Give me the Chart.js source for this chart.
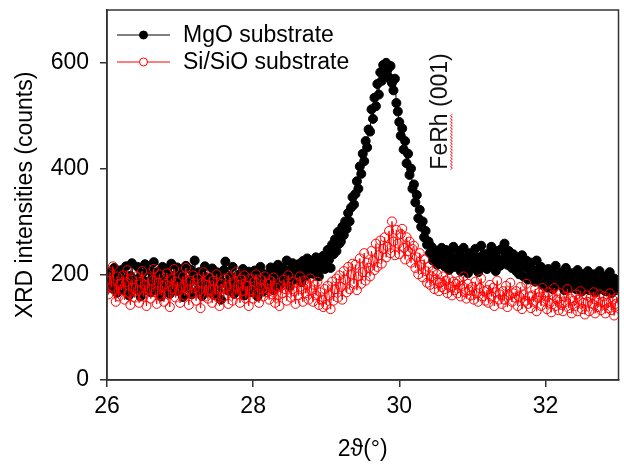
<!DOCTYPE html>
<html><head><meta charset="utf-8">
<script src="https://cdn.jsdelivr.net/npm/chart.js@4/dist/chart.umd.min.js"></script>
<style>html,body{margin:0;padding:0;background:#fff}</style>
</head><body>
<canvas id="c" width="624" height="466"></canvas>
<script>
// 2θ sampling grid of the scan (degrees)
const thetaStart = 26, thetaStep = 0.02;
const xTickValues = [26, 28, 30, 32];
const yTickValues = [0, 200, 400, 600];
const seriesNames = ['MgO substrate', 'Si/SiO substrate'];
const xAxisTitle = '2\u03D1(\u00B0)';
const yAxisTitle = 'XRD intensities (counts)';
const peakLabel = 'FeRh (001)';
const peakLabelAt = [30.57, 508];

const mgoCounts = [
196,182,205,174,190,212,186,165,199,178,
208,191,170,215,184,160,197,221,183,172,
190,214,176,158,201,188,219,170,185,207,
166,193,223,180,171,205,192,158,214,187,
175,210,196,163,220,184,170,199,213,168,
185,202,157,192,216,174,181,209,162,195,
226,189,170,204,178,159,198,215,186,167,
193,176,211,161,188,204,170,196,152,183,
208,224,185,169,197,180,214,163,191,175,
199,171,186,210,160,192,177,205,184,166,
189,207,172,158,196,214,181,168,200,185,
176,198,213,184,170,205,192,218,179,196,
212,186,203,226,194,178,209,221,190,202,
198,219,207,185,225,212,196,230,204,214,
222,201,216,232,208,196,225,214,235,210,
218,246,228,212,256,238,266,244,280,258,
262,290,274,300,286,316,300,326,346,332,
352,376,362,404,390,428,414,452,440,474,
470,512,494,534,518,560,540,582,566,596,
580,600,588,572,594,562,548,570,524,508,
488,462,476,436,452,410,428,388,400,362,
370,336,350,306,322,290,300,270,282,256,
262,240,252,226,246,232,218,240,228,250,
234,215,246,222,208,238,226,252,214,230,
220,244,206,232,250,218,228,202,240,224,
236,212,248,226,204,232,254,216,238,222,
210,240,226,252,218,234,206,244,228,216,
248,226,258,236,218,244,230,212,238,224,
206,228,200,218,236,196,214,226,190,210,
222,198,208,186,226,202,192,214,180,204,
196,176,210,188,204,172,200,216,184,194,
180,204,190,170,212,186,196,174,202,188,
192,172,208,180,194,168,200,186,176,206,
170,194,184,200,166,188,178,206,172,186,
196,168,186,176,204,164,182,192,170,188,
176];

const sioCounts = [
188,162,204,176,215,170,148,196,158,182,
170,198,152,185,208,164,142,190,174,156,
196,168,146,186,206,158,180,140,194,172,
154,188,210,166,144,184,200,160,178,148,
182,202,162,138,192,172,210,156,186,168,
146,176,196,160,212,170,142,188,164,198,
174,150,192,168,136,184,204,158,180,154,
194,170,146,188,162,200,156,140,182,172,
158,192,176,144,196,166,150,186,204,162,
180,146,190,168,198,154,178,140,192,170,
154,186,200,164,146,190,172,158,196,166,
182,152,188,162,194,146,174,160,140,178,
164,190,172,150,198,176,156,186,168,144,
184,160,196,172,148,188,164,180,152,192,
170,148,180,160,186,142,166,152,138,172,
142,178,160,134,186,150,172,192,156,198,
176,152,206,190,166,214,172,200,220,182,
218,170,196,230,182,204,240,188,222,212,
196,244,226,208,258,214,236,264,220,248,
270,232,252,282,240,300,262,236,284,258,
238,276,286,250,228,270,244,262,222,248,
254,212,232,200,240,218,194,228,206,184,
214,180,196,206,172,190,200,168,184,176,
196,172,188,164,192,176,160,186,170,182,
164,188,158,178,196,166,154,182,170,160,
176,152,186,164,148,174,192,158,168,150,
170,146,180,158,174,140,166,188,152,162,
144,168,152,178,138,160,184,148,164,156,
168,140,158,176,134,162,150,182,144,158,
136,160,148,172,130,156,166,140,174,150,
158,134,166,146,128,160,174,140,152,132,
164,142,130,158,148,172,136,154,126,150,
140,162,130,152,168,134,146,124,160,148,
130,156,144,166,126,150,138,162,132,148,
158,126,146,136,164,132,152,122,144,156,
140];

const toPoints = arr => arr.map((v, i) => ({x: +(thetaStart + i * thetaStep).toFixed(3), y: v}));
const FONT = "'Liberation Sans', Arial, sans-serif";
const FS = 23;

const decorPlugin = {
  id: 'decor',
  afterDraw(chart) {
    const {ctx, chartArea: a, scales} = chart;
    ctx.save();
    ctx.strokeStyle = '#333';
    ctx.lineWidth = 1.5;
    ctx.strokeRect(a.left, a.top, a.right - a.left, a.bottom - a.top);
    ctx.font = FS + 'px ' + FONT;
    ctx.textBaseline = 'middle';
    ctx.textAlign = 'left';
    chart.data.datasets.forEach((ds, i) => {
      const y = a.top + 25 + i * 27;
      const x0 = a.left + 10, x1 = a.left + 63, xm = (x0 + x1) / 2;
      ctx.strokeStyle = ds.borderColor;
      ctx.lineWidth = 1;
      ctx.beginPath(); ctx.moveTo(x0, y); ctx.lineTo(x1, y); ctx.stroke();
      ctx.beginPath(); ctx.arc(xm, y, 4, 0, Math.PI * 2);
      ctx.fillStyle = ds.pointBackgroundColor === 'transparent' ? '#fff' : ds.pointBackgroundColor;
      ctx.fill();
      ctx.strokeStyle = ds.pointBorderColor; ctx.stroke();
      ctx.fillStyle = '#000';
      ctx.fillText(ds.label, a.left + 76, y + 1);
    });
    const px = scales.x.getPixelForValue(peakLabelAt[0]);
    const py = scales.y.getPixelForValue(peakLabelAt[1]);
    ctx.translate(px, py);
    ctx.rotate(-Math.PI / 2);
    ctx.font = FS + 'px ' + FONT;
    ctx.textAlign = 'center';
    ctx.textBaseline = 'middle';
    ctx.fillStyle = '#111';
    ctx.fillText(peakLabel, 0, 0);
    const full = ctx.measureText(peakLabel).width;
    const w = ctx.measureText(peakLabel.split(' ')[0]).width;
    const sx = -full / 2;
    ctx.strokeStyle = '#e33';
    ctx.lineWidth = 1;
    ctx.beginPath();
    for (let k = 0; k <= w; k += 1.5) {
      const yy = 10 + ((Math.round(k / 1.5) % 2) ? 1.5 : -0.5);
      if (k === 0) ctx.moveTo(sx + k, yy); else ctx.lineTo(sx + k, yy);
    }
    ctx.stroke();
    ctx.restore();
  }
};

new Chart(document.getElementById('c'), {
  type: 'line',
  data: {
    datasets: [
      {
        label: seriesNames[0], data: toPoints(mgoCounts), order: 2,
        borderColor: '#000', borderWidth: 1, pointRadius: 4.5, pointBorderWidth: 1,
        pointBackgroundColor: '#000', pointBorderColor: '#000', tension: 0
      },
      {
        label: seriesNames[1], data: toPoints(sioCounts), order: 1,
        borderColor: '#ff0000', borderWidth: 1, pointRadius: 4.5, pointBorderWidth: 1,
        pointBackgroundColor: 'transparent', pointBorderColor: '#ff0000', tension: 0
      }
    ]
  },
  options: {
    responsive: false, animation: false,
    layout: {padding: {left: 0, right: 2, top: 10, bottom: 0}},
    plugins: {legend: {display: false}, tooltip: {enabled: false}},
    scales: {
      x: {
        type: 'linear', min: 26, max: 33,
        afterBuildTicks: s => { s.ticks = xTickValues.map(v => ({value: v})); },
        afterFit: s => { s.height = 86; s.paddingLeft = 0; s.paddingRight = 0; },
        grid: {drawOnChartArea: false, drawTicks: true, tickLength: 7, color: '#333', lineWidth: 1.5},
        border: {display: true, color: '#333', width: 1.5},
        ticks: {color: '#000', font: {family: FONT, size: FS}, padding: 6, maxRotation: 0},
        title: {display: true, text: xAxisTitle, color: '#000', font: {family: FONT, size: FS}, padding: {top: 0, bottom: 3}}
      },
      y: {
        type: 'linear', min: 0, max: 700,
        afterBuildTicks: s => { s.ticks = yTickValues.map(v => ({value: v})); },
        afterFit: s => { s.width = 107; s.paddingTop = 0; s.paddingBottom = 0; },
        grid: {drawOnChartArea: false, drawTicks: true, tickLength: 7, color: '#333', lineWidth: 1.5},
        border: {display: true, color: '#333', width: 1.5},
        ticks: {color: '#000', font: {family: FONT, size: FS}, padding: 11},
        title: {display: true, text: yAxisTitle, color: '#000', font: {family: FONT, size: FS}, padding: {top: 12, bottom: 0}}
      }
    }
  },
  plugins: [decorPlugin]
});
</script>
</body></html>
